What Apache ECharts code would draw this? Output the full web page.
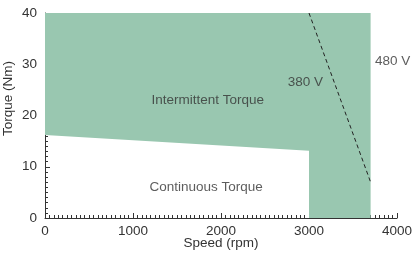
<html>
<head>
	<meta charset="UTF-8">
	<script src="https://cdn.jsdelivr.net/npm/echarts@6/dist/echarts.min.js"></script>
</head>
<body style="margin:0;">
<div id="chart" style="width:420px;height:258px;"></div>
<script type="text/javascript">
        // outline of the green (intermittent) region, speed / torque pairs
        var regionSpeed = [0, 3000, 3000, 3700, 3700, 0]
        var regionTorque = [16.2, 13.1, 0, 0, 40, 40]

        // 380 V dashed limit
        var limitSpeed = [3000, 3700]
        var limitTorque = [40, 7]

        // text placed in the plot
        var noteText = ['Intermittent Torque', 'Continuous Torque', '380 V', '480 V']
        var noteSpeed = [1850, 1830, 2960, 3950]
        var noteTorque = [23.0, 6.0, 26.4, 30.5]

        var regionData = []
        for (var i = 0; i < regionSpeed.length; i++) {
            regionData.push([regionSpeed[i], regionTorque[i]])
        }
        var limitData = []
        for (var i = 0; i < limitSpeed.length; i++) {
            limitData.push([limitSpeed[i], limitTorque[i]])
        }
        var noteData = []
        for (var i = 0; i < noteText.length; i++) {
            noteData.push([noteSpeed[i], noteTorque[i], noteText[i]])
        }

        var FONT = 'Liberation Sans'
        var TXT = '#333'

        var myChart = echarts.init(document.getElementById('chart'))

        var option = {
            animation: false,
            grid: {left: 45, right: 23, top: 13, bottom: 40, outerBoundsMode: 'none', containLabel: false},
            xAxis: {
                type: 'value', min: 0, max: 4000, interval: 1000,
                name: 'Speed (rpm)', nameLocation: 'middle', nameGap: 18, nameMoveOverlap: false,
                nameTextStyle: {fontFamily: FONT, fontSize: 13.5, color: TXT},
                axisLine: {lineStyle: {color: '#333', width: 1}},
                axisTick: {inside: true, length: 5, lineStyle: {color: '#333'}},
                minorTick: {show: true, splitNumber: 20, length: 3, lineStyle: {color: '#333'}},
                axisLabel: {fontFamily: FONT, fontSize: 13.5, color: TXT, margin: 6,
                    formatter: function (v) { return String(v) }},
                splitLine: {show: false}
            },
            yAxis: {
                type: 'value', min: 0, max: 40, interval: 10,
                name: 'Torque (Nm)', nameLocation: 'middle', nameGap: 30, nameMoveOverlap: false,
                nameTextStyle: {fontFamily: FONT, fontSize: 13.5, color: TXT, padding: [0, 0, 0, 34]},
                axisLine: {show: true, lineStyle: {color: '#333', width: 1}},
                axisTick: {show: true, inside: true, length: 5, lineStyle: {color: '#333'}},
                minorTick: {show: true, splitNumber: 10, length: 3, lineStyle: {color: '#333'}},
                axisLabel: {fontFamily: FONT, fontSize: 13.5, color: TXT, margin: 8},
                splitLine: {show: false}
            },
            series: [
                {
                    type: 'custom',
                    data: regionData,
                    z: 1,
                    renderItem: function (params, api) {
                        if (params.dataIndex !== 0) return
                        var pts = []
                        for (var i = 0; i < regionData.length; i++) {
                            pts.push(api.coord(regionData[i]))
                        }
                        return {
                            type: 'polygon',
                            shape: {points: pts},
                            style: {fill: '#99c7b0', stroke: null}
                        }
                    }
                },
                {
                    type: 'line',
                    data: limitData,
                    symbol: 'none',
                    z: 3,
                    lineStyle: {color: '#222', width: 1, type: [4, 3]}
                },
                {
                    type: 'scatter',
                    data: noteData,
                    symbolSize: 0,
                    z: 4,
                    label: {
                        show: true, position: 'inside',
                        fontFamily: FONT, fontSize: 13.5, color: TXT,
                        formatter: function (p) { return p.data[2] }
                    }
                }
            ]
        }

        myChart.setOption(option)
</script>
</body>
</html>
